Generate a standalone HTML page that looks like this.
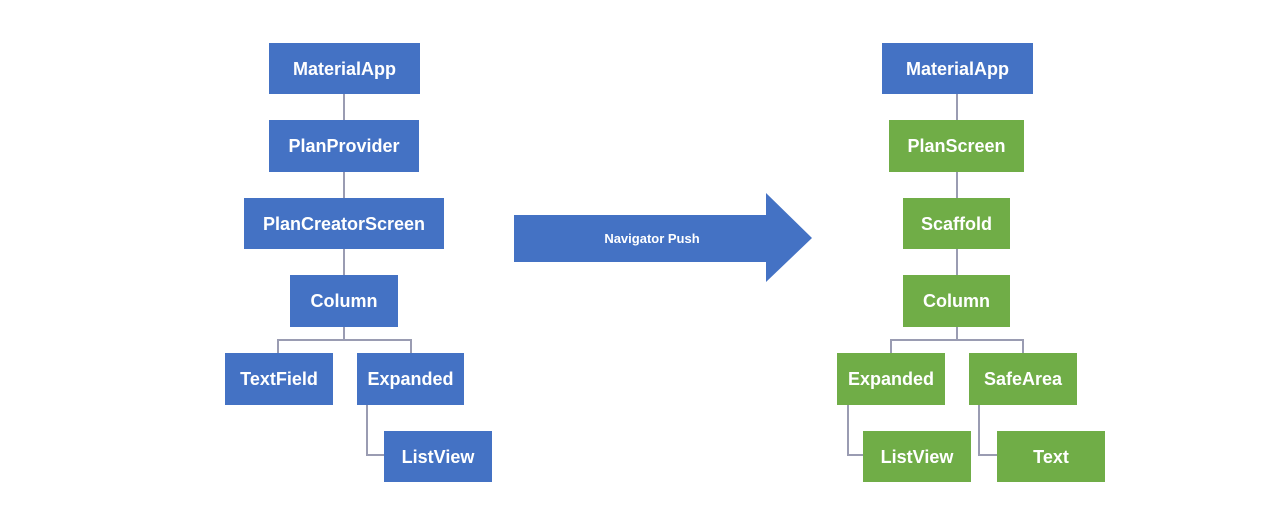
<!DOCTYPE html>
<html><head><meta charset="utf-8"><style>
html,body{margin:0;padding:0;background:#fff;}
svg text{font-family:"Liberation Sans",sans-serif;font-weight:bold;fill:#fff;}
</style></head><body>
<svg width="1288" height="512" viewBox="0 0 1288 512" xmlns="http://www.w3.org/2000/svg">
<g stroke="#9a9cb2" stroke-width="2" fill="none">
<line x1="344" y1="94" x2="344" y2="120"/><line x1="344" y1="172" x2="344" y2="198"/><line x1="344" y1="249" x2="344" y2="275"/><line x1="344" y1="327" x2="344" y2="340"/>
<polyline points="278,353 278,340 411,340 411,353"/>
<polyline points="367,405 367,455 384,455"/>
<line x1="957" y1="94" x2="957" y2="120"/><line x1="957" y1="172" x2="957" y2="198"/><line x1="957" y1="249" x2="957" y2="275"/><line x1="957" y1="327" x2="957" y2="340"/>
<polyline points="891,353 891,340 1023,340 1023,353"/>
<polyline points="848,405 848,455 863,455"/>
<polyline points="979,405 979,455 997,455"/>
</g>
<g fill="#4472c4">
<rect x="269" y="43" width="151" height="51"/><rect x="269" y="120" width="150" height="52"/><rect x="244" y="198" width="200" height="51"/><rect x="290" y="275" width="108" height="52"/>
<rect x="225" y="353" width="108" height="52"/><rect x="357" y="353" width="107" height="52"/><rect x="384" y="431" width="108" height="51"/>
<rect x="882" y="43" width="151" height="51"/>
<polygon points="514,215 766,215 766,193 812,238 766,282 766,262 514,262"/>
</g>
<g fill="#70ad47">
<rect x="889" y="120" width="135" height="52"/><rect x="903" y="198" width="107" height="51"/><rect x="903" y="275" width="107" height="52"/>
<rect x="837" y="353" width="108" height="52"/><rect x="969" y="353" width="108" height="52"/>
<rect x="863" y="431" width="108" height="51"/><rect x="997" y="431" width="108" height="51"/>
</g>
<g font-size="18" text-anchor="middle">
<text x="344.5" y="75">MaterialApp</text><text x="344" y="152">PlanProvider</text><text x="344" y="230">PlanCreatorScreen</text><text x="344" y="307">Column</text>
<text x="279" y="385">TextField</text><text x="410.5" y="385">Expanded</text><text x="438" y="463">ListView</text>
<text x="957.5" y="75">MaterialApp</text><text x="956.5" y="152">PlanScreen</text><text x="956.5" y="230">Scaffold</text><text x="956.5" y="307">Column</text>
<text x="891" y="385">Expanded</text><text x="1023" y="385">SafeArea</text><text x="917" y="463">ListView</text><text x="1051" y="463">Text</text>
<text x="652" y="243" font-size="13">Navigator Push</text>
</g>
</svg>
</body></html>
